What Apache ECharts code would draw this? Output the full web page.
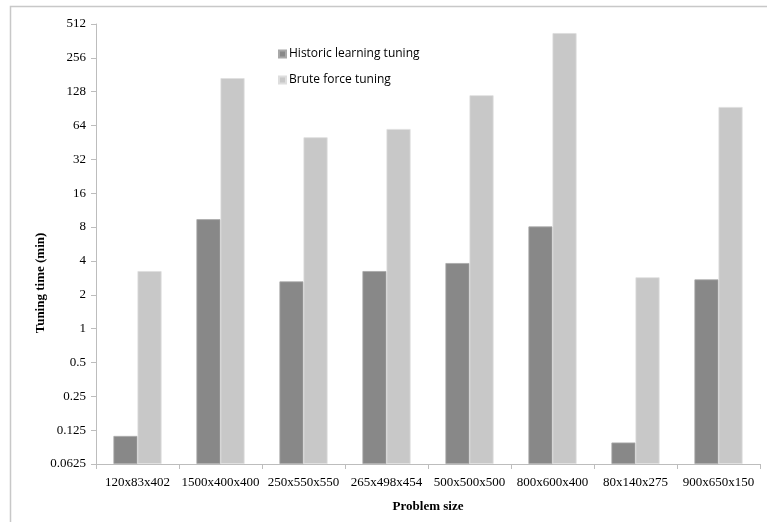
<!DOCTYPE html>
<html><head><meta charset="utf-8">
<script src="https://cdn.jsdelivr.net/npm/echarts@6/dist/echarts.min.js"></script>
<style>html,body{margin:0;padding:0;background:#fff}#c{width:767px;height:522px}</style>
</head><body><div id="c"></div>
<script>
var categories = ['120x83x402','1500x400x400','250x550x550','265x498x454','500x500x500','800x600x400','80x140x275','900x650x150'];
var historic = [0.111, 9.4, 2.63, 3.25, 3.83, 8.1, 0.097, 2.74];
var brute = [3.25, 169, 50.3, 59.6, 119, 425, 2.86, 93.6];
var yTicks = [0.0625, 0.125, 0.25, 0.5, 1, 2, 4, 8, 16, 32, 64, 128, 256, 512];

// log2 scale drawn on a value axis whose origin is the lowest tick (0.0625 = 2^-4),
// so bars grow from the bottom of the plot like in the reference.
var LOG_MIN = Math.log2(yTicks[0]);
var LOG_MAX = Math.log2(yTicks[yTicks.length - 1]);
function toAxis(v) { return Math.log2(v) - LOG_MIN; }

var chart = echarts.init(document.getElementById('c'));
var serif = '"Liberation Serif", "Times New Roman", serif';
chart.setOption({
  animation: false,
  graphic: [
    {type: 'rect', shape: {x: 10.5, y: 6.5, width: 800, height: 600}, style: {fill: 'none', stroke: '#c8c8c8', lineWidth: 1.5}, z: -1},
    {type: 'text', x: 41, y: 283, rotation: Math.PI / 2, style: {text: 'Tuning time (min)', font: 'bold 13px ' + serif, fill: '#000', align: 'center', verticalAlign: 'middle'}}
  ],
  legend: {
    orient: 'vertical', left: 273, top: 43, itemWidth: 7, itemHeight: 7, itemGap: 14,
    icon: 'rect',
    textStyle: {fontFamily: '"Open Sans", "Liberation Sans", sans-serif', fontSize: 12, color: '#000', padding: [0,0,0,-2]},
    data: ['Historic learning tuning', 'Brute force tuning']
  },
  grid: {left: 96, right: 7, top: 24, bottom: 58},
  xAxis: {
    type: 'category', data: categories,
    name: 'Problem size', nameLocation: 'middle', nameGap: 36,
    nameTextStyle: {fontFamily: serif, fontWeight: 'bold', fontSize: 13, color: '#000'},
    axisLine: {lineStyle: {color: '#bdbdbd'}},
    axisTick: {show: true, length: 5, lineStyle: {color: '#bdbdbd'}},
    axisLabel: {fontFamily: serif, fontSize: 13, color: '#000', margin: 12, interval: 0}
  },
  yAxis: {
    type: 'value', min: 0, max: LOG_MAX - LOG_MIN, interval: 1,
    axisLine: {show: true, lineStyle: {color: '#bdbdbd'}},
    axisTick: {show: true, length: 5, lineStyle: {color: '#bdbdbd'}},
    splitLine: {show: false},
    axisLabel: {fontFamily: serif, fontSize: 13, color: '#000', margin: 10,
      formatter: function (v) { return String(yTicks[Math.round(v)]); }}
  },
  series: [
    {name: 'Historic learning tuning', type: 'bar', data: historic.map(toAxis), barGap: '0%', barCategoryGap: '42%',
      itemStyle: {color: '#888888', borderColor: '#a8a8a8', borderWidth: 0.8}},
    {name: 'Brute force tuning', type: 'bar', data: brute.map(toAxis),
      itemStyle: {color: '#c8c8c8', borderColor: '#dedede', borderWidth: 0.8}}
  ]
});
</script></body></html>
